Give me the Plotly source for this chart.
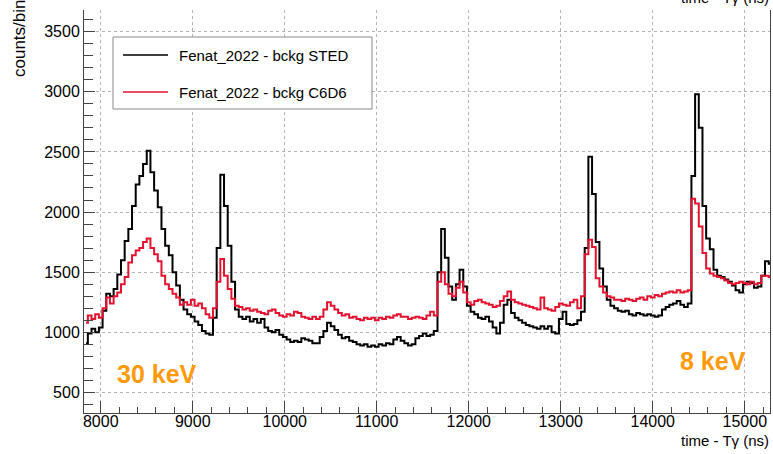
import plotly.graph_objects as go

# Time bins (ns, bin centres, 40 ns wide)
bin_start = 7840
bin_width = 40

# counts per bin, Fenat_2022 background measured with STED
sted = [
    910, 990, 1030, 1000, 1040, 1180, 1320, 1300, 1360, 1480,
    1600, 1760, 1860, 2050, 2230, 2300, 2400, 2510, 2330, 2180,
    2040, 1860, 1720, 1640, 1500, 1390, 1270, 1190, 1150, 1130,
    1090, 1060, 1010, 990, 980, 1120, 1700, 2310, 2050, 1720,
    1420, 1190, 1130, 1110, 1130, 1090, 1110, 1080, 1110, 1040,
    1010, 1000, 1020, 980, 960, 940, 920, 930, 920, 950,
    940, 930, 910, 910, 960, 1010, 1080, 1050, 1020, 980,
    950, 960, 930, 920, 900, 890, 900, 880, 890, 880,
    900, 890, 910, 900, 940, 960, 930, 910, 890, 900,
    950, 970, 990, 970, 980, 1010, 1500, 1860, 1620, 1380,
    1270, 1400, 1520, 1380, 1220, 1170, 1150, 1120, 1110, 1130,
    1090, 1040, 990, 1080, 1230, 1270, 1160, 1120, 1100, 1080,
    1060, 1050, 1040, 1030, 1050, 1030, 1050, 1000, 990, 1110,
    1170, 1070, 1060, 1070, 1100, 1170, 1700, 2460, 2150, 1750,
    1530, 1380, 1270, 1220, 1200, 1180, 1170, 1180, 1150, 1140,
    1160, 1150, 1140, 1150, 1140, 1130, 1140, 1190, 1210, 1230,
    1240, 1260, 1230, 1210, 1240, 2300, 2980, 2700, 2050, 1780,
    1690, 1520, 1470, 1460, 1440, 1420, 1390, 1350, 1330, 1400,
    1420, 1410, 1370, 1380, 1470, 1590, 1570,
]

# counts per bin, Fenat_2022 background measured with C6D6
c6d6 = [
    1080, 1140, 1110, 1150, 1120, 1200, 1290, 1240, 1300, 1330,
    1400, 1460, 1580, 1640, 1680, 1700, 1750, 1780, 1700, 1650,
    1590, 1470, 1400, 1360, 1320, 1290, 1230, 1250, 1230, 1270,
    1220, 1240, 1200, 1150, 1120, 1200, 1420, 1610, 1470, 1360,
    1280, 1220, 1210, 1190, 1200, 1180, 1190, 1170, 1160, 1150,
    1180, 1190, 1160, 1140, 1130, 1150, 1140, 1170, 1160, 1130,
    1120, 1110, 1130, 1110, 1130, 1190, 1250, 1220, 1190, 1160,
    1140, 1150, 1120, 1130, 1110, 1100, 1120, 1110, 1120, 1100,
    1120, 1110, 1130, 1120, 1140, 1150, 1130, 1130, 1110, 1120,
    1130, 1120, 1110, 1140, 1170, 1140, 1420, 1500, 1400, 1320,
    1300, 1370, 1420, 1330, 1250, 1230, 1260, 1270, 1250, 1240,
    1230, 1210, 1220, 1260, 1300, 1340, 1270, 1250, 1240, 1230,
    1220, 1210, 1200, 1190, 1290, 1200, 1190, 1180, 1210, 1240,
    1230, 1220, 1250, 1270, 1200, 1300, 1650, 1770, 1710, 1450,
    1380, 1330, 1300, 1290, 1270, 1270, 1260, 1280, 1270, 1260,
    1280, 1290, 1270, 1300, 1290, 1310, 1300, 1320, 1330, 1340,
    1330, 1350, 1330, 1340, 1350, 2110, 2070, 1880, 1660, 1530,
    1490, 1470, 1460, 1450, 1430, 1410, 1400, 1410, 1420, 1410,
    1400, 1420, 1400, 1410, 1470, 1470, 1460,
]

x_ticks = [8000, 9000, 10000, 11000, 12000, 13000, 14000, 15000]
y_ticks = [500, 1000, 1500, 2000, 2500, 3000, 3500]

legend_labels = ["Fenat_2022 - bckg STED", "Fenat_2022 - bckg C6D6"]
colors = ["#000000", "#E3122F"]
energy_labels = ["30 keV", "8 keV"]

centres = [bin_start + bin_width * i for i in range(len(sted))]

FONT = "Liberation Sans, Arial, Helvetica, sans-serif"
W, H = 773, 454
L, R, T, B = 84, 3, 10, 41
PW, PH = W - L - R, H - T - B

fig = go.Figure()
for vals, col, name in zip([sted, c6d6], colors, legend_labels):
    fig.add_trace(go.Scatter(
        x=centres, y=vals, mode="lines", name=name,
        line=dict(color=col, width=2, shape="hvh"),
        showlegend=False,
    ))


def px_x(p):
    return (p - L) / PW


def px_y(p):
    return (H - B - p) / PH


# legend box drawn in paper coordinates
shapes = [
    dict(type="rect", xref="paper", yref="paper",
         x0=px_x(113), x1=px_x(372), y0=px_y(109), y1=px_y(37),
         line=dict(color="#8a8a8a", width=1), fillcolor="white", layer="above"),
]
annotations = []
for k, (lab, col) in enumerate(zip(legend_labels, colors)):
    yc = [55, 92][k]
    shapes.append(dict(type="line", xref="paper", yref="paper",
                       x0=px_x(123), x1=px_x(168), y0=px_y(yc), y1=px_y(yc),
                       line=dict(color=col, width=1.6), layer="above"))
    annotations.append(dict(xref="paper", yref="paper", x=px_x(177), y=px_y(yc),
                            text=lab, showarrow=False, xanchor="left", yanchor="middle",
                            font=dict(family=FONT, size=15, color="black")))

# energy labels
annotations.append(dict(xref="paper", yref="paper", x=px_x(115), y=px_y(374),
                        text="<b>" + energy_labels[0] + "</b>", showarrow=False,
                        xanchor="left", yanchor="middle",
                        font=dict(family=FONT, size=25, color="#FF9A0A")))
annotations.append(dict(xref="paper", yref="paper", x=px_x(678), y=px_y(361),
                        text="<b>" + energy_labels[1] + "</b>", showarrow=False,
                        xanchor="left", yanchor="middle",
                        font=dict(family=FONT, size=25, color="#FF9A0A")))

# axis titles
annotations.append(dict(xref="paper", yref="paper", x=px_x(771), y=px_y(440),
                        text="time - Tγ (ns)", showarrow=False,
                        xanchor="right", yanchor="middle",
                        font=dict(family=FONT, size=15, color="black")))
annotations.append(dict(xref="paper", yref="paper", x=px_x(771), y=px_y(-2),
                        text="time - Tγ (ns)", showarrow=False,
                        xanchor="right", yanchor="middle",
                        font=dict(family=FONT, size=15, color="black")))
annotations.append(dict(xref="paper", yref="paper", x=px_x(19), y=px_y(-3),
                        text="counts/bin", showarrow=False, textangle=-90,
                        xanchor="center", yanchor="top",
                        font=dict(family=FONT, size=17, color="black")))

axis_common = dict(
    showline=True, linecolor="#444444", linewidth=1,
    ticks="inside", tickcolor="#444444", tickwidth=1,
    showgrid=True, gridcolor="#b4b4b4", griddash="dot", gridwidth=1,
    zeroline=False, tickfont=dict(family=FONT, size=16, color="black"),
)

fig.update_layout(
    width=W, height=H,
    margin=dict(l=L, r=R, t=T, b=B, pad=0),
    paper_bgcolor="white", plot_bgcolor="white",
    shapes=shapes, annotations=annotations,
    xaxis=dict(range=[7818, 15274], tickvals=x_ticks,
               ticktext=[str(v) for v in x_ticks], ticklen=12,
               ticklabelstandoff=-6,
               minor=dict(dtick=200, tick0=8000, ticks="inside", ticklen=6,
                          tickcolor="#444444", showgrid=False),
               **axis_common),
    yaxis=dict(range=[329, 3680], tickvals=y_ticks,
               ticktext=[str(v) for v in y_ticks], ticklen=11, mirror=True,
               minor=dict(dtick=100, tick0=0, ticks="inside", ticklen=9,
                          tickcolor="#444444", showgrid=False),
               **axis_common),
)

fig.write_html("out.html")
